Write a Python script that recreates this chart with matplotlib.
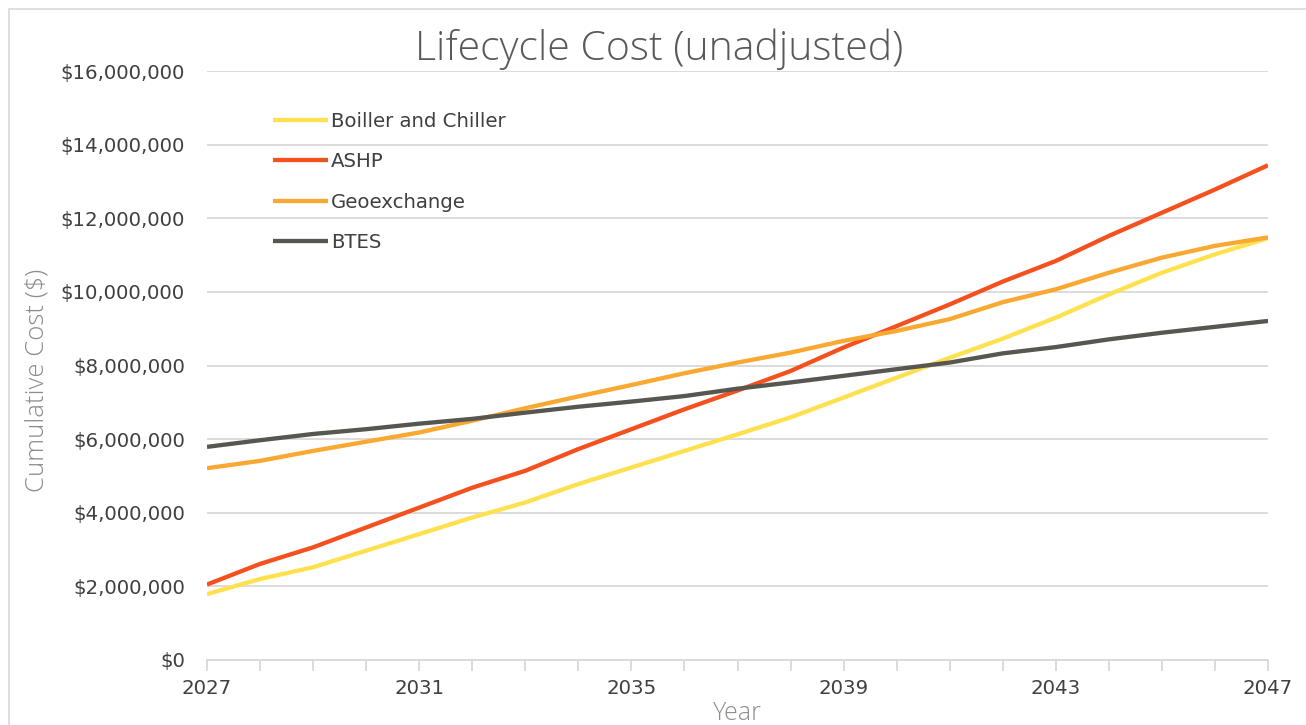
import matplotlib
matplotlib.use("Agg")
import matplotlib.pyplot as plt
from matplotlib.ticker import FuncFormatter, MultipleLocator
from matplotlib.patches import Rectangle

years = list(range(2027, 2048))
boiler_chiller = [1.79, 2.20, 2.52, 2.97, 3.42, 3.87, 4.28, 4.78, 5.23, 5.68, 6.13,
                  6.59, 7.13, 7.67, 8.21, 8.73, 9.30, 9.93, 10.52, 11.02, 11.46]
ashp = [2.05, 2.61, 3.06, 3.60, 4.14, 4.68, 5.14, 5.73, 6.27, 6.81, 7.32,
        7.85, 8.49, 9.07, 9.66, 10.28, 10.84, 11.52, 12.15, 12.78, 13.44]
geoexchange = [5.21, 5.41, 5.68, 5.93, 6.18, 6.50, 6.84, 7.16, 7.47, 7.79, 8.08,
               8.35, 8.67, 8.94, 9.26, 9.72, 10.07, 10.52, 10.93, 11.25, 11.48]
btes = [5.79, 5.97, 6.14, 6.27, 6.42, 6.55, 6.72, 6.88, 7.02, 7.17, 7.37,
        7.54, 7.72, 7.90, 8.08, 8.33, 8.50, 8.71, 8.89, 9.05, 9.21]

series = [
    ("Boiller and Chiller", boiler_chiller, "#FFE14F"),
    ("ASHP", ashp, "#F4511E"),
    ("Geoexchange", geoexchange, "#F9A832"),
    ("BTES", btes, "#585650"),
]

W, H = 1306, 725
fig = plt.figure(figsize=(W / 100, H / 100), dpi=100)
fig.patch.set_facecolor("white")
fig.patches.append(Rectangle((9 / W, -0.1), 1.2, 1 - 9 / H + 0.1, transform=fig.transFigure,
                             fill=False, edgecolor="#d9d9d9", linewidth=1.2))

ax = fig.add_axes([207 / W, 1 - 660 / H, (1268 - 207) / W, (660 - 71) / H])

for name, vals, col in series:
    ax.plot(years, [v * 1e6 for v in vals], color=col, linewidth=3.1, label=name,
            solid_capstyle="butt", solid_joinstyle="round", zorder=3)

ax.set_xlim(2027, 2047)
ax.set_ylim(0, 16e6)
ax.yaxis.set_major_locator(MultipleLocator(2e6))
ax.yaxis.set_major_formatter(FuncFormatter(lambda v, p: f"${v:,.0f}"))
ax.set_xticks(list(range(2027, 2048, 4)))
ax.set_xticks(years, minor=True)

ax.grid(axis="y", color="#d9d9d9", linewidth=1.3, zorder=0)
for s in ["top", "right", "left"]:
    ax.spines[s].set_visible(False)
ax.spines["bottom"].set_color("#d9d9d9")
ax.spines["bottom"].set_linewidth(1.3)

ax.tick_params(axis="y", length=0, pad=16, labelcolor="#404040", labelsize=14.2)
ax.tick_params(axis="x", which="both", length=8, width=1.3, color="#d9d9d9",
               pad=6, labelcolor="#404040", labelsize=14.2)
ax.tick_params(axis="x", which="minor", labelbottom=False)

ax.set_ylabel("Cumulative Cost ($)", fontsize=18.5, color="#8c8c8c",
              family=["Open Sans", "DejaVu Sans"], fontweight="light")
ax.yaxis.set_label_coords(-(207 - 50) / 1061, (660 - 380) / 589)
ax.set_xlabel("Year", fontsize=18, color="#8c8c8c",
              family=["Open Sans", "DejaVu Sans"], fontweight="light")
ax.xaxis.set_label_coords(0.5, -(713 - 660) / 589)
ax.xaxis.label.set_va("center")

fig.text(659 / W, 1 - 49 / H, "Lifecycle Cost (unadjusted)", ha="center", va="center",
         fontsize=29.5, color="#595959", family=["Open Sans", "DejaVu Sans"],
         fontweight="light")

leg = ax.legend(loc="upper left", bbox_to_anchor=((273 - 207) / 1061, (660 - 112) / 589),
                frameon=False, fontsize=14.2, handlelength=2.8, handletextpad=0.15,
                labelspacing=1.08, borderpad=0, borderaxespad=0)
for t in leg.get_texts():
    t.set_color("#404040")
for l in leg.get_lines():
    l.set_linewidth(3.1)

fig.savefig("out.png", dpi=100, facecolor="white")
